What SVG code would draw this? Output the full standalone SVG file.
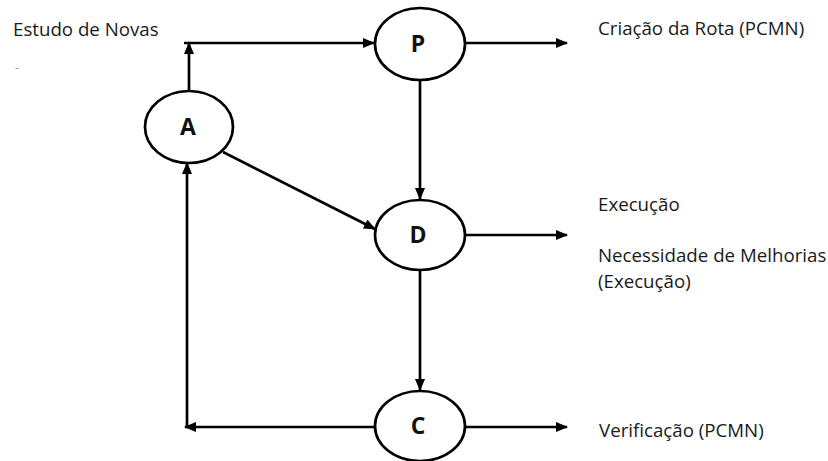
<svg xmlns="http://www.w3.org/2000/svg" width="828" height="461" viewBox="0 0 828 461">
<style>
  .node ellipse { fill: #fff; stroke: #000; stroke-width: 2.7; }
  .node text { font-family: "Open Sans", "Liberation Sans", sans-serif; font-weight: bold; font-size: 23px; fill: #111; text-anchor: middle; }
  .lbl { font-family: "Open Sans", "Liberation Sans", sans-serif; font-size: 18.7px; fill: #1a1a1a; }
  #connectors line { stroke: #000; stroke-width: 2.7; fill: none; }
</style>
<defs>
  <marker id="arr" markerUnits="userSpaceOnUse" markerWidth="12" markerHeight="10" refX="11" refY="5" orient="auto">
    <path d="M0,0 L12,5 L0,10 z" fill="#000"/>
  </marker>
</defs>
<rect width="828" height="461" fill="#fff"/>
<g id="connectors">
  <line x1="189" y1="91" x2="189" y2="43" marker-end="url(#arr)"/>
  <line x1="184" y1="43" x2="374" y2="43" marker-end="url(#arr)"/>
  <line x1="465" y1="43" x2="567" y2="43" marker-end="url(#arr)"/>
  <line x1="420" y1="80" x2="420" y2="199" marker-end="url(#arr)"/>
  <line x1="223" y1="152" x2="375" y2="229" marker-end="url(#arr)"/>
  <line x1="465" y1="235" x2="567" y2="235" marker-end="url(#arr)"/>
  <line x1="420" y1="270" x2="420" y2="390" marker-end="url(#arr)"/>
  <line x1="375" y1="427" x2="185" y2="427" marker-end="url(#arr)"/>
  <line x1="187" y1="428" x2="187" y2="163" marker-end="url(#arr)"/>
  <line x1="465" y1="427" x2="567" y2="427" marker-end="url(#arr)"/>
</g>
<g id="node-A" class="node"><ellipse cx="189" cy="127" rx="44" ry="36"/><text x="188" y="135">A</text></g>
<g id="node-P" class="node"><ellipse cx="420" cy="44" rx="45" ry="36"/><text x="418" y="52">P</text></g>
<g id="node-D" class="node"><ellipse cx="420" cy="235" rx="45" ry="35"/><text x="418" y="243">D</text></g>
<g id="node-C" class="node"><ellipse cx="420" cy="426" rx="45" ry="35"/><text x="418" y="434">C</text></g>
<g id="labels">
  <text class="lbl" x="13" y="36">Estudo de Novas</text>
  <text class="lbl" x="15" y="72" style="font-size:12px;fill:#999">-</text>
  <text class="lbl" x="598" y="35">Criação da Rota (PCMN)</text>
  <text class="lbl" x="598" y="211">Execução</text>
  <text class="lbl" x="598" y="262">Necessidade de Melhorias</text>
  <text class="lbl" x="598" y="288">(Execução)</text>
  <text class="lbl" x="599" y="437">Verificação (PCMN)</text>
</g>
</svg>
